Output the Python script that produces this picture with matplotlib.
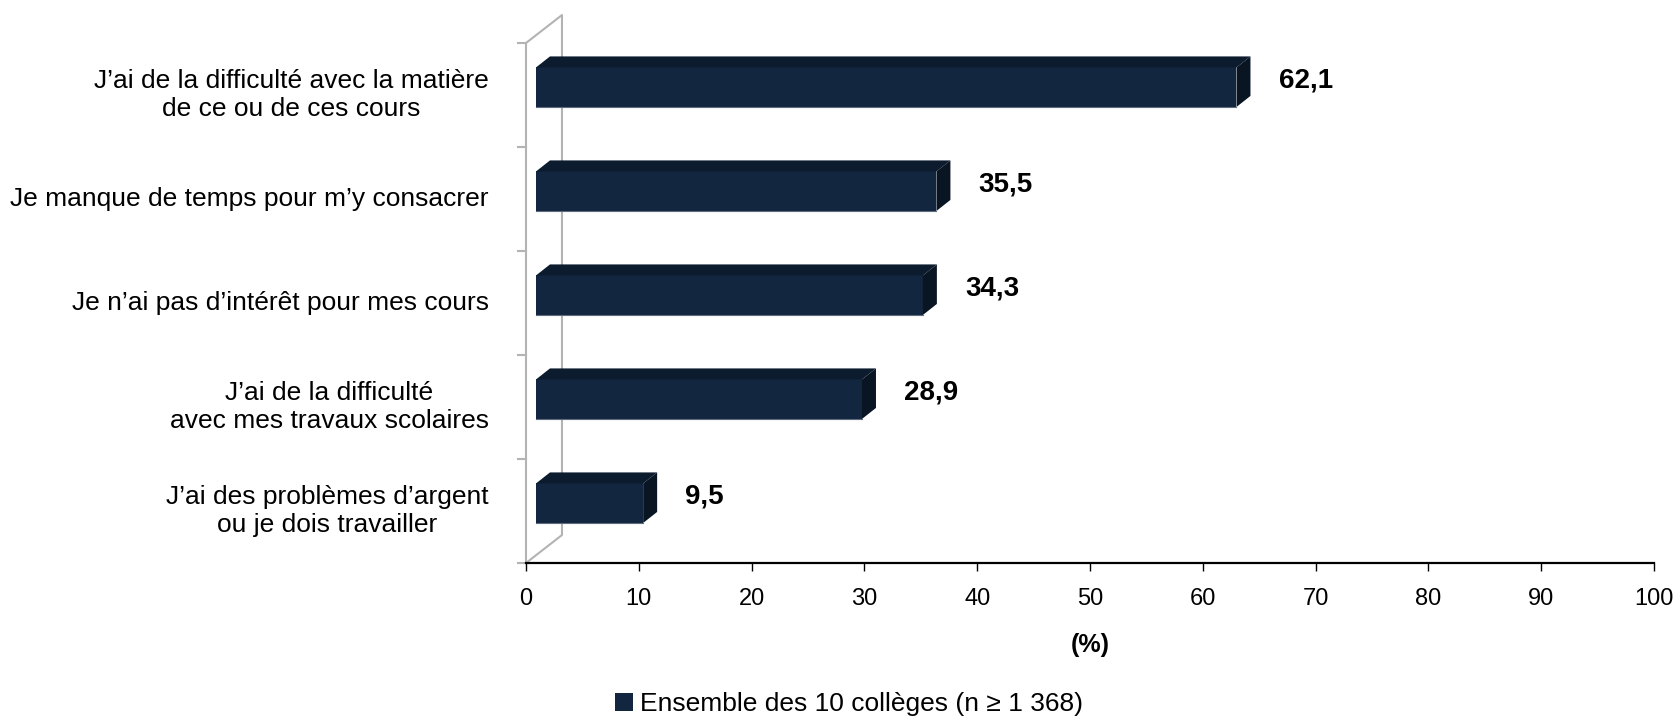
import matplotlib.pyplot as plt
from matplotlib.patches import Polygon, Patch

plt.rcParams['font.family'] = ['Liberation Sans Narrow', 'Liberation Sans', 'DejaVu Sans']

categories = [
    "J\u2019ai de la difficult\u00e9 avec la mati\u00e8re\nde ce ou de ces cours",
    "Je manque de temps pour m\u2019y consacrer",
    "Je n\u2019ai pas d\u2019int\u00e9r\u00eat pour mes cours",
    "J\u2019ai de la difficult\u00e9\navec mes travaux scolaires",
    "J\u2019ai des probl\u00e8mes d\u2019argent\nou je dois travailler",
]
values = [62.1, 35.5, 34.3, 28.9, 9.5]
value_labels = ["62,1", "35,5", "34,3", "28,9", "9,5"]
xticks = list(range(0, 101, 10))
legend_label = "Ensemble des 10 coll\u00e8ges (n \u2265 1 368)"

front_col = '#12263f'
top_col = '#0d1b2e'
side_col = '#0a1524'
wall_col = '#b3b3b3'

W, H = 1678, 718
fig = plt.figure(figsize=(W / 100, H / 100), dpi=100)
ax = fig.add_axes([526 / W, 1 - 563 / H, 1128 / W, 520 / H])

n = len(values)
ax.set_xlim(0, 100)
ax.set_ylim(-0.5, n - 0.5)

# depth of the 3D "wall" and of the bars (data units)
wall_dx, wall_dy = 3.19, 0.269
x0 = 0.886          # front face starts here
ddx, ddy = 1.24, 0.106
half = 0.19
shift = 0.075

# back wall outline
ax.plot([0, 0], [-0.5, n - 0.5], color=wall_col, lw=1.5, clip_on=False, zorder=1)
ax.plot([0, wall_dx, wall_dx, 0], [n - 0.5, n - 0.5 + wall_dy, -0.5 + wall_dy, -0.5],
        color=wall_col, lw=1.5, clip_on=False, zorder=1)
# left gray ticks at category boundaries
for b in range(n + 1):
    ax.plot([-0.75, 0], [b - 0.5, b - 0.5], color=wall_col, lw=1.5, clip_on=False, zorder=1)

for i, (v, lab) in enumerate(zip(values, value_labels)):
    y = n - 1 - i
    yb = y + shift - half
    yt = y + shift + half
    ax.add_patch(Polygon([(x0, yb), (x0 + v, yb), (x0 + v, yt), (x0, yt)],
                         closed=True, facecolor=front_col, edgecolor='none', zorder=3))
    ax.plot([x0, x0 + v], [yb, yb], color='#5d6b7c', lw=0.8, zorder=4)
    ax.add_patch(Polygon([(x0, yt), (x0 + v, yt), (x0 + v + ddx, yt + ddy), (x0 + ddx, yt + ddy)],
                         closed=True, facecolor=top_col, edgecolor='none', zorder=3, clip_on=False))
    ax.add_patch(Polygon([(x0 + v, yb), (x0 + v, yt), (x0 + v + ddx, yt + ddy), (x0 + v + ddx, yb + ddy)],
                         closed=True, facecolor=side_col, edgecolor='none', zorder=3, clip_on=False))
    ax.text(v + x0 + ddx + 2.5, y + 0.14, lab, ha='left', va='center',
            fontsize=20, fontweight='bold', color='black')
    ax.text(-3.3, y, categories[i], ha='right', va='center', multialignment='center',
            fontsize=19, color='black')

for s in ['top', 'right', 'left']:
    ax.spines[s].set_visible(False)
ax.spines['bottom'].set_linewidth(1.6)
ax.spines['bottom'].set_color('black')
ax.set_yticks([])
ax.set_xticks(xticks)
ax.tick_params(axis='x', direction='out', length=6, width=1, pad=12, labelsize=17, color='black')

fig.text((526 + 564) / W, 1 - 645 / H, "(%)", ha='center', va='center',
         fontsize=18, fontweight='bold')

fig.legend(handles=[Patch(facecolor=front_col, edgecolor='none', label=legend_label)],
           loc='center', bbox_to_anchor=(849 / W, 1 - 704 / H), frameon=False,
           fontsize=19, handlelength=0.7, handleheight=0.7, handletextpad=0.25)

fig.savefig('out.png', dpi=100)
